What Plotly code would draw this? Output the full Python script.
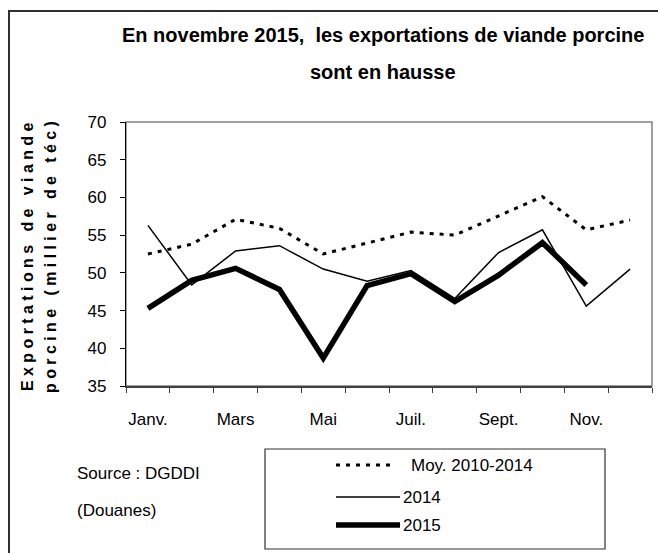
import plotly.graph_objects as go

# ---- data ----
months = ["Janv.", "Févr.", "Mars", "Avr.", "Mai", "Juin",
          "Juil.", "Août", "Sept.", "Oct.", "Nov.", "Déc."]
tick_labels = ["Janv.", "", "Mars", "", "Mai", "", "Juil.", "", "Sept.", "", "Nov.", ""]
moy_2010_2014 = [52.5, 53.8, 57.1, 55.9, 52.5, 54.0, 55.4, 55.0, 57.6, 60.1, 55.7, 57.0]
exp_2014 = [56.3, 48.4, 52.9, 53.6, 50.5, 48.9, 50.3, 46.6, 52.7, 55.7, 45.6, 50.5]
exp_2015 = [45.3, 49.0, 50.6, 47.8, 38.7, 48.3, 49.9, 46.2, 49.7, 54.0, 48.4, None]
series_names = ["Moy. 2010-2014", "2014", "2015"]
y_ticks = [35, 40, 45, 50, 55, 60, 65, 70]

title_l1 = "En novembre 2015,  les exportations de viande porcine"
title_l2 = "sont en hausse"
ytitle_l1 = "Exportations de viande"
ytitle_l2 = "porcine (millier de téc)"
source_l1 = "Source : DGDDI"
source_l2 = "(Douanes)"

FONT = "Liberation Sans, Arial, sans-serif"

W, H = 658, 553
L, R, T, B = 126, 6, 122, 167
PW, PH = W - L - R, H - T - B


def px(x):
    return (x - L) / PW


def py(y):
    return (H - B - y) / PH


styles = [dict(color="black", width=3, dash="4px,6px"),
          dict(color="black", width=1.5),
          dict(color="black", width=5.5)]

fig = go.Figure()
for name, vals, st in zip(series_names, [moy_2010_2014, exp_2014, exp_2015], styles):
    fig.add_trace(go.Scatter(x=months, y=vals, mode="lines", name=name,
                             line=st, showlegend=False, connectgaps=False))

fig.update_layout(
    width=W, height=H,
    margin=dict(l=L, r=R, t=T, b=B, pad=0),
    paper_bgcolor="white", plot_bgcolor="white",
    font=dict(family=FONT, size=17, color="black"),
    xaxis=dict(type="category", range=[-0.5, 11.5], tickmode="array",
               tickvals=months, ticktext=tick_labels, tickson="boundaries",
               ticks="outside", ticklen=5, tickcolor="#404040", tickangle=0,
               showline=True, linecolor="#404040", linewidth=1.5,
               showgrid=False, zeroline=False, ticklabelstandoff=17,
               tickfont=dict(family=FONT, size=17)),
    yaxis=dict(range=[35, 70], tickmode="array", tickvals=y_ticks,
               ticks="outside", ticklen=5, tickcolor="black",
               showline=True, linecolor="black", linewidth=1.2,
               showgrid=False, zeroline=False, ticklabelstandoff=10,
               tickfont=dict(family=FONT, size=17)),
)

shapes = []
# outer frame (right and bottom edges fall outside the picture)
shapes.append(dict(type="rect", xref="paper", yref="paper",
                   x0=px(9), x1=px(700), y0=py(600), y1=py(11),
                   line=dict(color="#303030", width=2)))
# plot area border (grey)
shapes.append(dict(type="rect", xref="paper", yref="paper",
                   x0=0, x1=1, y0=0, y1=1, layer="below",
                   line=dict(color="#808080", width=1.5)))
# legend box
shapes.append(dict(type="rect", xref="paper", yref="paper",
                   x0=px(265), x1=px(605), y0=py(549), y1=py(449),
                   line=dict(color="#303030", width=1.2)))

annotations = []
for txt, yy in [(title_l1, 35), (title_l2, 72)]:
    annotations.append(dict(text=f"<b>{txt}</b>", x=px(383), y=py(yy), xref="paper", yref="paper",
                            xanchor="center", yanchor="middle", showarrow=False,
                            font=dict(family=FONT, size=20)))
for txt, xx in [(ytitle_l1, 27), (ytitle_l2, 50)]:
    annotations.append(dict(text=f"<span style='letter-spacing:4.4px'><b>{txt}</b></span>",
                            x=px(xx), y=py(255), xref="paper", yref="paper",
                            xanchor="center", yanchor="middle",
                            textangle=-90, showarrow=False,
                            font=dict(family=FONT, size=16)))
for txt, yy in [(source_l1, 473), (source_l2, 510)]:
    annotations.append(dict(text=txt, x=px(75), y=py(yy), xref="paper", yref="paper",
                            xanchor="left", yanchor="middle", showarrow=False,
                            font=dict(family=FONT, size=17)))

# legend entries
rows = [465, 497, 525]
for name, st, yy in zip(series_names, styles, rows):
    dashed = "dash" in st
    shapes.append(dict(type="line", xref="paper", yref="paper",
                       x0=px(336), x1=px(396 if dashed else 400), y0=py(yy), y1=py(yy),
                       line=st))
    annotations.append(dict(text=name, x=px(409 if dashed else 401), y=py(yy),
                            xref="paper", yref="paper", xanchor="left", yanchor="middle",
                            showarrow=False, font=dict(family=FONT, size=17)))

fig.update_layout(shapes=shapes, annotations=annotations)
fig.write_html("out.html", config={"displayModeBar": False},
               post_script="document.body.style.margin='0px';")
